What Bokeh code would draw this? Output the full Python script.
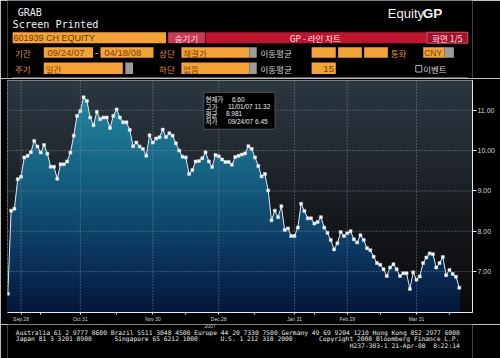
import numpy as np
from bokeh.plotting import figure
from bokeh.layouts import column
from bokeh.models import Range1d, FixedTicker, Span, BoxAnnotation, Label
from bokeh.core.properties import value
from bokeh.embed import file_html
from bokeh.resources import INLINE

# ---------------- data (daily closes, 601939 CH, 09/24/07 - 04/18/08) ----------------
prices = [
    6.45, 8.51, 8.56, 9.29, 9.35, 9.83, 9.87, 9.96, 10.24, 10.10,
    9.95, 10.14, 9.92, 9.60, 9.60, 9.30, 9.66, 9.66, 9.73, 9.95,
    10.37, 10.86, 10.98, 11.32, 11.23, 10.82, 10.63, 10.96, 10.78, 10.82,
    10.82, 10.56, 10.86, 11.02, 10.82, 10.70, 10.70, 10.51, 10.11, 10.20,
    10.10, 10.04, 9.87, 10.38, 10.20, 10.30, 10.33, 10.52, 10.34, 10.43,
    10.37, 10.18, 10.00, 9.85, 9.83, 9.42, 9.52, 9.73, 9.74, 9.81,
    9.96, 9.73, 9.59, 9.89, 9.86, 9.78, 9.72, 9.72, 9.65, 9.84,
    9.87, 9.90, 9.93, 10.11, 10.04, 9.83, 9.62, 9.36, 9.42, 9.01,
    8.27, 8.51, 8.35, 8.62, 8.03, 8.07, 7.88, 7.88, 8.09, 8.68,
    8.50, 8.32, 8.32, 8.19, 8.23, 8.35, 8.09, 7.96, 7.78, 7.55,
    7.70, 7.98, 7.88, 7.95, 8.00, 7.80, 7.72, 7.90, 7.78, 7.58,
    7.53, 7.37, 7.21, 7.17, 7.06, 6.89, 7.10, 7.18, 7.06, 6.89,
    6.96, 6.96, 6.57, 6.98, 6.80, 6.88, 7.21, 7.35, 7.45, 7.43,
    7.10, 7.21, 7.36, 6.91, 7.04, 6.94, 6.87, 6.60,
]
day_index = list(range(len(prices)))
x_tick_index = [4, 22, 44, 64, 87, 103, 124]
x_tick_labels = ["Sep 28", "Oct 31", "Nov 30", "Dec 28", "Jan 31", "Feb 29", "Mar 31"]
x_minor_index = [10, 33, 54, 75, 93, 113, 134]
year_label = "2007"
y_ticks = [7, 8, 9, 10, 11]
y_tick_labels = ["7.00", "8.00", "9.00", "10.00", "11.00"]
stat_names = ["현재가", "고가", "평균", "저가"]
stat_values = ["6.60", "11/01/07 11.32", "8.981", "09/24/07 6.45"]

KR = "Noto Sans CJK KR"
SANS = "Liberation Sans"
MONO = "DejaVu Sans Mono"
ORANGE = "#f5a236"
GREY = "#9c9c9c"


def lerp_color(v, stops):
    vs = [s[0] for s in stops]
    out = []
    for c in range(3):
        out.append(int(round(np.interp(v, vs, [s[1][c] for s in stops]))))
    return "#%02x%02x%02x" % tuple(out)


def blank(fig):
    fig.grid.visible = False
    fig.outline_line_color = None


def T(fig, x, y, s, color, size, font=SANS, align="left", style="normal"):
    fig.text(x=[x], y=[y], text=[s], text_color=color, text_font_size=f"{size}px",
             text_font=value(font), text_align=align, text_baseline="middle",
             text_font_style=style)


def mono_line(fig, x0, y, s, color, size, cw):
    # place each word on a fixed character grid
    col = 0
    for w in s.split(" "):
        if w:
            T(fig, x0 + col * cw, y, w, color, size, MONO)
        col += len(w) + 1


# ---------------- header ----------------
h = figure(width=500, height=78, x_range=Range1d(0, 500), y_range=Range1d(78, 0),
           output_backend="svg", toolbar_location=None, x_axis_type=None, y_axis_type=None,
           min_border=0, min_border_left=0, min_border_right=0, min_border_top=0,
           min_border_bottom=0, background_fill_color="black", border_fill_color="black")
blank(h)

boxes = [
    (5.5, 170.5, 31.7, 42.7, ORANGE),
    (172.7, 212.3, 31.7, 42.7, "#c93a52"),
    (213.0, 495.0, 31.7, 42.7, "#c0142e"),
    (451.0, 495.0, 31.7, 42.7, "#a3112a"),
    (39.0, 92.0, 46.7, 57.3, ORANGE),
    (100.0, 157.0, 46.7, 57.3, ORANGE),
    (187.0, 260.0, 46.7, 57.3, ORANGE),
    (260.0, 268.0, 46.7, 57.3, GREY),
    (327.0, 353.0, 46.7, 57.3, ORANGE),
    (355.5, 381.0, 46.7, 57.3, ORANGE),
    (383.5, 409.0, 46.7, 57.3, ORANGE),
    (447.0, 470.0, 46.7, 57.3, ORANGE),
    (470.0, 480.0, 46.7, 57.3, GREY),
    (39.0, 124.0, 62.0, 73.5, ORANGE),
    (126.7, 135.0, 62.0, 73.5, GREY),
    (187.0, 260.0, 62.0, 73.5, ORANGE),
    (260.0, 268.0, 62.0, 73.5, GREY),
    (327.0, 353.0, 62.0, 73.5, ORANGE),
]
h.quad(left=[b[0] for b in boxes], right=[b[1] for b in boxes], top=[b[2] for b in boxes],
       bottom=[b[3] for b in boxes], fill_color=[b[4] for b in boxes], line_color=None)
h.quad(left=[451.0], right=[495.0], top=[31.7], bottom=[42.7], fill_color=None,
       line_color="#e06070", line_width=0.8)
h.quad(left=[439.0], right=[445.5], top=[65.0], bottom=[71.5], fill_color=None,
       line_color="#b0b0b0", line_width=1)
h.line(x=[5, 495], y=[77.3, 77.3], line_color="#808080", line_width=1)

T(h, 11, 11.5, "GRAB", "#f0f0f0", 10, MONO)
T(h, 5.5, 23.5, "Screen Printed", "#f0f0f0", 10.2, MONO)
T(h, 409, 12.5, "Equity", "#f2f2f2", 13, SANS)
T(h, 446.5, 12.5, "GP", "#f2f2f2", 13.5, SANS, style="bold")

T(h, 6.5, 37.5, "601939 CH EQUITY", "#6a3805", 9, SANS)
T(h, 192.5, 37.3, "숨기기", "#f6d6dc", 8.5, KR, align="center")
T(h, 331, 37.3, "GP - 라인 차트", "#fbe4e8", 8.5, KR, align="center")
T(h, 473, 37.3, "화면 1/5", "#fbe4e8", 8.5, KR, align="center")

LBL = "#e8892e"
LBL2 = "#d8d0d8"
T(h, 8, 52, "기간", LBL, 8.5, KR)
T(h, 43, 52, "09/24/07", "#7a4106", 9.5, SANS)
T(h, 94, 52, "-", "#f0f0f0", 9, SANS)
T(h, 104, 52, "04/18/08", "#7a4106", 9.5, SANS)
T(h, 163, 52, "상단", LBL, 8.5, KR)
T(h, 189, 52, "체결가", "#7a4106", 8.5, KR)
T(h, 272, 52, "이동평균", LBL2, 8.5, KR)
T(h, 412, 52, "통화", LBL, 8.5, KR)
T(h, 448, 52, "CNY", "#7a4106", 8.5, SANS)

T(h, 8, 68, "주기", LBL, 8.5, KR)
T(h, 41, 68, "일간", "#7a4106", 8.5, KR)
T(h, 163, 68, "하단", LBL, 8.5, KR)
T(h, 189, 68, "없음", "#7a4106", 8.5, KR)
T(h, 272, 68, "이동평균", LBL2, 8.5, KR)
T(h, 351, 68, "15", "#7a4106", 9.5, SANS, align="right")
T(h, 447, 68, "이벤트", LBL2, 8.5, KR)

# ---------------- chart ----------------
X0, X1 = -0.1, 141.0
Y0, Y1 = 5.985, 11.738
p = figure(width=500, height=246, x_range=Range1d(X0, X1), y_range=Range1d(Y0, Y1),
           output_backend="svg", toolbar_location=None, y_axis_location="right",
           min_border_left=7, min_border_right=28, min_border_top=2, min_border_bottom=10,
           background_fill_color="black", border_fill_color="black")
p.grid.visible = False
p.outline_line_color = "#cfcfcf"

bg_stops = [(5.9, (9, 9, 10)), (8.5, (22, 25, 29)), (10.0, (34, 42, 49)), (11.8, (44, 55, 64))]
nb = 60
edges = np.linspace(Y0, Y1, nb + 1)
bh = edges[1] - edges[0]
p.quad(left=X0 - 2, right=X1 + 2, bottom=edges[:-1], top=edges[1:] + bh * 0.6,
       fill_color=[lerp_color(0.5 * (a + b), bg_stops) for a, b in zip(edges[:-1], edges[1:])],
       line_color=None)

area_stops = [(6.0, (5, 22, 58)), (7.5, (11, 55, 96)), (9.0, (18, 88, 122)),
              (10.5, (28, 118, 145)), (11.6, (36, 140, 163))]
pr = np.array(prices)
na = 70
tops = np.linspace(Y0, pr.max() + 0.05, na + 1)[1:]
for hi in tops[::-1]:
    p.varea(x=day_index, y1=Y0, y2=np.minimum(pr, hi),
            fill_color=lerp_color(hi - (tops[1] - tops[0]) * 0.5, area_stops))

for t in y_ticks:
    p.add_layout(Span(location=t, dimension="width", line_color="#9aa2aa", line_alpha=0.75,
                      line_dash="1 2", line_width=1))
for t in x_tick_index:
    p.add_layout(Span(location=t, dimension="height", line_color="#9aa2aa", line_alpha=0.75,
                      line_dash="1 2", line_width=1))

p.line(day_index, prices, line_color="#dfe6ec", line_width=1)
p.scatter(day_index, prices, marker="square", size=3, fill_color="#ffffff",
          line_color="#d0d8e0", line_width=0.5)

XO, XS = 6.81, 3.2975
def dx(px):
    return (px - XO) / XS
def dy(py):
    return 11 - (py - 110) / 40.675

p.add_layout(BoxAnnotation(left=dx(203), right=dx(274), top=dy(92), bottom=dy(129),
                           fill_color="black", fill_alpha=1, line_color="#b8b8b8", line_width=1))
row_y = [99, 106.3, 113.6, 121]
val_x = [231, 227, 225, 227]
for nm, vl, ry, vx in zip(stat_names, stat_values, row_y, val_x):
    p.add_layout(Label(x=dx(204.5), y=dy(ry), text=nm, text_color="#ececec",
                       text_font=KR, text_font_size="6.5px", text_baseline="middle"))
    p.add_layout(Label(x=dx(vx), y=dy(ry), text=vl, text_color="#ececec",
                       text_font=SANS, text_font_size="6.5px", text_baseline="middle"))

xa = p.xaxis[0]
xa.ticker = FixedTicker(ticks=x_tick_index, minor_ticks=x_minor_index)
xa.major_label_overrides = dict(zip(x_tick_index, x_tick_labels))
xa.major_label_text_font_size = "5px"
xa.major_label_text_font = SANS
xa.major_label_text_color = "#d0d0d0"
xa.axis_line_color = "#e8e8e8"
xa.major_tick_line_color = "#e8e8e8"
xa.minor_tick_line_color = "#e8e8e8"
xa.major_tick_in = 0
xa.major_tick_out = 2
xa.minor_tick_in = 0
xa.minor_tick_out = 2
xa.major_label_standoff = 1

ya = p.yaxis[0]
ya.ticker = FixedTicker(ticks=y_ticks)
ya.major_label_overrides = dict(zip(y_ticks, y_tick_labels))
ya.major_label_text_font_size = "7px"
ya.major_label_text_font = SANS
ya.major_label_text_color = "#d8d8d8"
ya.axis_line_color = "#e8e8e8"
ya.major_tick_line_color = "#e8e8e8"
ya.major_tick_in = 0
ya.major_tick_out = 4
ya.minor_tick_line_color = None
ya.major_label_standoff = 1

# ---------------- footer (starts at page y = 324) ----------------
f = figure(width=500, height=34, x_range=Range1d(0, 500), y_range=Range1d(358, 324),
           output_backend="svg", toolbar_location=None, x_axis_type=None, y_axis_type=None,
           min_border=0, min_border_left=0, min_border_right=0, min_border_top=0,
           min_border_bottom=0, background_fill_color="black", border_fill_color="black")
blank(f)
T(f, XO + XS * x_tick_index[3], 325.8, year_label, "#d0d0d0", 5, SANS, align="center")

FC = "#ececec"
CW = 4.08
FS = 6.3
mono_line(f, 9, 331.5, "Australia 61 2 9777 8600 Brazil 5511 3048 4500 Europe 44 20 7330 7500 "
                       "Germany 49 69 9204 1210 Hong Kong 852 2977 6000", FC, FS, CW)
mono_line(f, 9, 338.3, "Japan 81 3 3201 8900", FC, FS, CW)
mono_line(f, 115, 338.3, "Singapore 65 6212 1000", FC, FS, CW)
mono_line(f, 229, 338.3, "U.S. 1 212 318 2000", FC, FS, CW)
mono_line(f, 335, 338.3, "Copyright 2008 Bloomberg Finance L.P.", FC, FS, CW)
mono_line(f, 368, 345.3, "H237-303-1 21-Apr-08  8:22:14", FC, FS, CW)

layout = column(h, p, f, spacing=0)
open("out.html", "w").write(file_html(layout, INLINE))
